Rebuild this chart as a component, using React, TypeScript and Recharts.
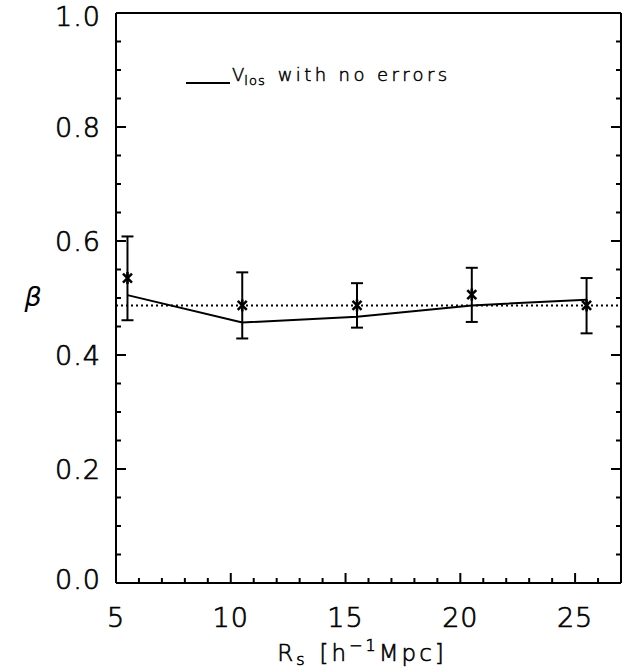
import React from 'react';
import { ComposedChart, Line, Scatter, XAxis, YAxis, ErrorBar, ReferenceLine } from 'recharts';

const radii = [5.5, 10.5, 15.5, 20.5, 25.5];
const betaMeasured = [0.535, 0.487, 0.487, 0.506, 0.487];
const errLow = [0.074, 0.058, 0.039, 0.048, 0.049];
const errHigh = [0.073, 0.058, 0.039, 0.047, 0.048];
const betaNoErrors = [0.505, 0.457, 0.467, 0.487, 0.497];
const betaReference = 0.487;

const xMajorTicks = [5, 10, 15, 20, 25];
const xAllTicks = [5, 6, 7, 8, 9, 10, 11, 12, 13, 14, 15, 16, 17, 18, 19, 20, 21, 22, 23, 24, 25, 26, 27];
const yMajorTicks = [0, 0.2, 0.4, 0.6, 0.8, 1.0];
const yAllTicks = [0, 0.05, 0.1, 0.15, 0.2, 0.25, 0.3, 0.35, 0.4, 0.45, 0.5, 0.55, 0.6, 0.65, 0.7, 0.75, 0.8, 0.85, 0.9, 0.95, 1.0];

const data = radii.map((r, i) => ({
  x: r,
  measured: betaMeasured[i],
  noErr: betaNoErrors[i],
  err: [errLow[i], errHigh[i]],
}));

const FONT = '"DejaVu Sans", sans-serif';
const W = 622;
const H = 671;

const textStyle = {
  fontFamily: FONT,
  fontWeight: 200,
  fill: '#000',
  stroke: '#000',
  strokeWidth: 0.7,
} as const;

const isMajor = (list: number[], v: number) => list.some((m) => Math.abs(m - v) < 1e-6);

const XTickBottom = (props: any) => {
  const { x, y, payload } = props;
  const v = payload.value;
  const major = isMajor(xMajorTicks, v);
  return (
    <g>
      <line x1={x} x2={x} y1={y} y2={y - (major ? 10 : 5)} stroke="#000" strokeWidth={2} />
      {major && (
        <text x={x} y={y + 44} textAnchor="middle" {...textStyle} fontSize={27} letterSpacing={1}>
          {v}
        </text>
      )}
    </g>
  );
};

const XTickTop = (props: any) => {
  const { x, y, payload } = props;
  const major = isMajor(xMajorTicks, payload.value);
  return <line x1={x} x2={x} y1={y} y2={y + (major ? 10 : 5)} stroke="#000" strokeWidth={2} />;
};

const YTickLeft = (props: any) => {
  const { x, y, payload } = props;
  const v = payload.value;
  const major = isMajor(yMajorTicks, v);
  return (
    <g>
      <line x1={x} x2={x + (major ? 10 : 5)} y1={y} y2={y} stroke="#000" strokeWidth={2} />
      {major && (
        <text x={x - 15} y={y + (v > 0.99 ? 13 : v < 0.01 ? 6 : 10)} textAnchor="end" {...textStyle} fontSize={27} letterSpacing={1}>
          {v.toFixed(1)}
        </text>
      )}
    </g>
  );
};

const YTickRight = (props: any) => {
  const { x, y, payload } = props;
  const major = isMajor(yMajorTicks, payload.value);
  return <line x1={x} x2={x - (major ? 10 : 5)} y1={y} y2={y} stroke="#000" strokeWidth={2} />;
};

const Asterisk = (props: any) => {
  const { cx, cy } = props;
  if (cx == null || cy == null) return null;
  const r = 6;
  const d = 4.5;
  return (
    <g stroke="#000" strokeWidth={2.6}>
      <line x1={cx} x2={cx} y1={cy - r} y2={cy + r} />
      <line x1={cx - d} x2={cx + d} y1={cy - d} y2={cy + d} />
      <line x1={cx - d} x2={cx + d} y1={cy + d} y2={cy - d} />
    </g>
  );
};

export default function App() {
  return (
    <div style={{ position: 'absolute', left: 0, top: 0, width: W, height: H, background: '#fff' }}>
      <ComposedChart width={W} height={H} data={data} margin={{ top: 0, right: 0, bottom: 0, left: 0 }}>
        <XAxis
          dataKey="x"
          type="number"
          domain={[5, 27]}
          ticks={xAllTicks}
          interval={0}
          height={88}
          axisLine={{ stroke: '#000', strokeWidth: 2 }}
          tickLine={false}
          tickSize={0}
          tickMargin={0}
          tick={<XTickBottom />}
          allowDataOverflow
        />
        <XAxis
          xAxisId="t"
          orientation="top"
          type="number"
          domain={[5, 27]}
          ticks={xAllTicks}
          interval={0}
          height={13}
          axisLine={{ stroke: '#000', strokeWidth: 2 }}
          tickLine={false}
          tickSize={0}
          tickMargin={0}
          tick={<XTickTop />}
          allowDataOverflow
        />
        <YAxis
          type="number"
          domain={[0, 1]}
          ticks={yAllTicks}
          interval={0}
          width={116}
          axisLine={{ stroke: '#000', strokeWidth: 2 }}
          tickLine={false}
          tickSize={0}
          tickMargin={0}
          tick={<YTickLeft />}
          allowDataOverflow
        />
        <YAxis
          yAxisId="r"
          orientation="right"
          type="number"
          domain={[0, 1]}
          ticks={yAllTicks}
          interval={0}
          width={1}
          axisLine={{ stroke: '#000', strokeWidth: 2 }}
          tickLine={false}
          tickSize={0}
          tickMargin={0}
          tick={<YTickRight />}
          allowDataOverflow
        />
        <ReferenceLine y={betaReference} stroke="#000" strokeWidth={2} strokeDasharray="2 3" />
        <Line
          dataKey="noErr"
          stroke="#000"
          strokeWidth={2}
          dot={false}
          activeDot={false}
          isAnimationActive={false}
          type="linear"
        />
        <Scatter dataKey="measured" shape={<Asterisk />} isAnimationActive={false}>
          <ErrorBar dataKey="err" direction="y" width={6} stroke="#000" strokeWidth={2} />
        </Scatter>
      </ComposedChart>
      <svg
        width={W}
        height={H}
        style={{ position: 'absolute', left: 0, top: 0, pointerEvents: 'none' }}
      >
        <line x1={186} x2={230} y1={83} y2={83} stroke="#000" strokeWidth={2} />
        <text x={232} y={81} {...textStyle} strokeWidth={0.5} fontSize={18}>
          V<tspan fontSize={13} dy={4} letterSpacing={1}>los</tspan>
          <tspan dy={-4} dx={12} letterSpacing={3.4}>with no errors</tspan>
        </text>
        <text x={362} y={661} textAnchor="middle" {...textStyle} strokeWidth={0.6} fontSize={23} letterSpacing={3}>
          R<tspan fontSize={16} dy={4}>s</tspan>
          <tspan dy={-4} dx={12}>[h</tspan>
          <tspan fontSize={16} dy={-10}>−1</tspan>
          <tspan dy={10}>Mpc]</tspan>
        </text>
        <text x={33} y={306} textAnchor="middle" fontFamily={FONT} fontWeight={400} fill="#000" fontSize={27} fontStyle="italic">
          β
        </text>
      </svg>
    </div>
  );
}
